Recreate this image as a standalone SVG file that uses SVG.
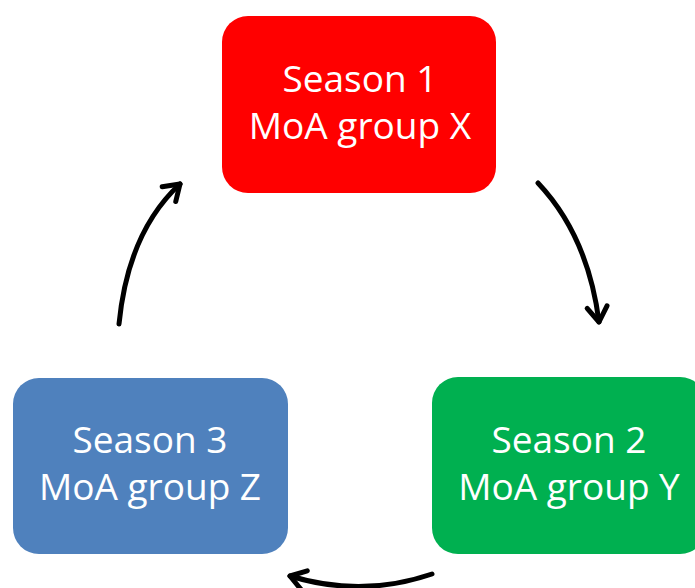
<svg xmlns="http://www.w3.org/2000/svg" width="695" height="588" viewBox="0 0 695 588">
<style>
.lbl{font-family:"Open Sans","Liberation Sans",Arial,sans-serif;font-size:37px;fill:#fff;text-anchor:middle}
.conn{fill:none;stroke:#000;stroke-width:5;stroke-linecap:round}
</style>
<defs>
<marker id="ah" markerUnits="userSpaceOnUse" markerWidth="30" markerHeight="30" refX="0" refY="0" viewBox="-20 -15 25 30" orient="auto" overflow="visible">
<path d="M-15,-10 L0,0 L-15,10" fill="none" stroke="#000" stroke-width="5" stroke-linecap="round" stroke-linejoin="round"/>
</marker>
</defs>
<rect width="695" height="588" fill="#fff"/>
<g id="connectors">
<path class="conn" d="M119,324 Q128,232 180,184" marker-end="url(#ah)"/>
<path class="conn" d="M538,183 Q588,236 599,322" marker-end="url(#ah)"/>
<path class="conn" d="M432,574 Q362,598 290,576" marker-end="url(#ah)"/>
</g>
<g id="season1">
<rect x="222" y="16" width="274" height="177" rx="26" fill="#ff0000"/>
<text class="lbl" x="360" y="92">Season 1</text>
<text class="lbl" x="360" y="139">MoA group X</text>
</g>
<g id="season2">
<rect x="432" y="377" width="274" height="177" rx="26" fill="#00b050"/>
<text class="lbl" x="569" y="453">Season 2</text>
<text class="lbl" x="569" y="500">MoA group Y</text>
</g>
<g id="season3">
<rect x="13" y="378" width="275" height="176" rx="26" fill="#4f81bd"/>
<text class="lbl" x="150" y="453">Season 3</text>
<text class="lbl" x="150" y="500">MoA group Z</text>
</g>
</svg>
